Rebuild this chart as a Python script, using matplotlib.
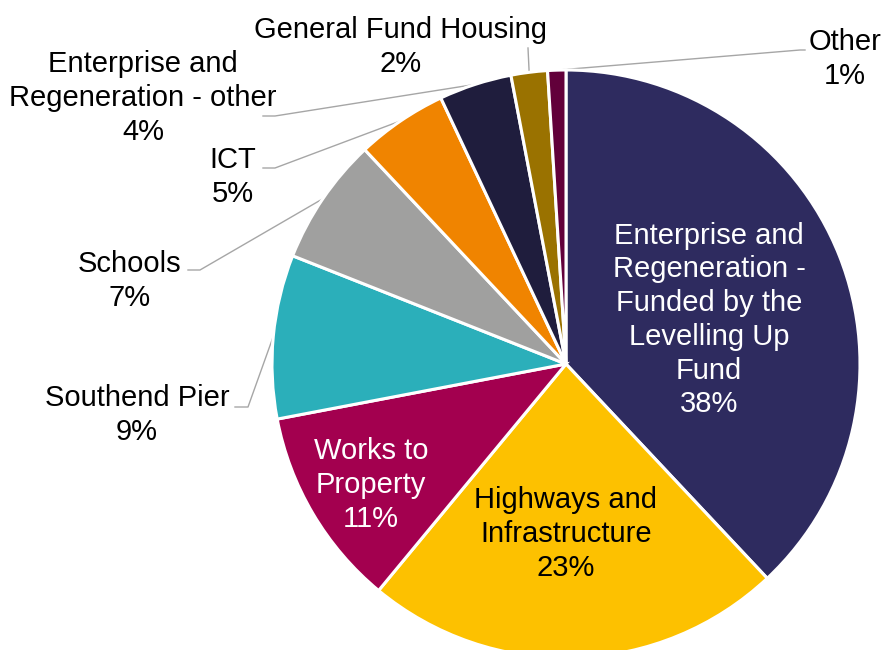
import matplotlib.pyplot as plt
import numpy as np

plt.rcParams['font.family'] = ['Liberation Sans', 'DejaVu Sans']

# data
categories = ['Enterprise and\nRegeneration -\nFunded by the\nLevelling Up\nFund',
              'Highways and\nInfrastructure', 'Works to\nProperty', 'Southend Pier',
              'Schools', 'ICT', 'Enterprise and\nRegeneration - other',
              'General Fund Housing', 'Other']
shares = [38, 23, 11, 9, 7, 5, 4, 2, 1]
colors = ['#2E2B5F', '#FDC100', '#A3004F', '#2BAFBA', '#A0A09F',
          '#F08400', '#1F1D3D', '#9A7200', '#62003A']

# layout (pixel coordinates, y measured from top)
W, H = 886, 650
center_px = (566, 364)
radius_px = 294
inside = {0: ((709, 320), 'white'), 1: ((566, 534), 'black'), 2: ((371, 485), 'white')}
# outside: text centre, elbow point, text-side end of leader
outside = {
    3: ((137, 415), (248, 407), (235, 407)),
    4: ((130, 281), (200, 270), (188, 270)),
    5: ((233, 177), (275, 168), (263, 168)),
    6: ((143, 98), (275, 116), (263, 116)),
    7: ((401, 47), (528, 48), (528, 48)),
    8: ((845, 59), (800, 50), (805, 50)),
}


def flip(p):
    return (p[0], H - p[1])


fig = plt.figure(figsize=(W / 100, H / 100), dpi=100)
ax = fig.add_axes([0, 0, 1, 1])
ax.set_xlim(0, W)
ax.set_ylim(0, H)
ax.set_aspect('equal')
ax.axis('off')

cx, cy = flip(center_px)
wedges, _ = ax.pie(shares, colors=colors, startangle=90, counterclock=False,
                   center=(cx, cy), radius=radius_px,
                   wedgeprops=dict(edgecolor='white', linewidth=2.2))
ax.set_xlim(0, W)
ax.set_ylim(0, H)

fs = 21
ls = 1.26
for i, w in enumerate(wedges):
    label = f'{categories[i]}\n{shares[i]}%'
    if i in inside:
        pos, col = inside[i]
        ax.text(*flip(pos), label, color=col, fontsize=fs, ha='center', va='center',
                linespacing=ls)
    else:
        pos, elbow, end = outside[i]
        mid = np.deg2rad((w.theta1 + w.theta2) / 2)
        edge = (cx + radius_px * np.cos(mid), cy + radius_px * np.sin(mid))
        e1, e2 = flip(elbow), flip(end)
        ax.plot([edge[0], e1[0], e2[0]], [edge[1], e1[1], e2[1]],
                color='#A6A6A6', lw=1.0, zorder=0.5)
        ax.text(*flip(pos), label, color='black', fontsize=fs, ha='center', va='center',
                linespacing=ls)

plt.savefig('out.png', dpi=100)
